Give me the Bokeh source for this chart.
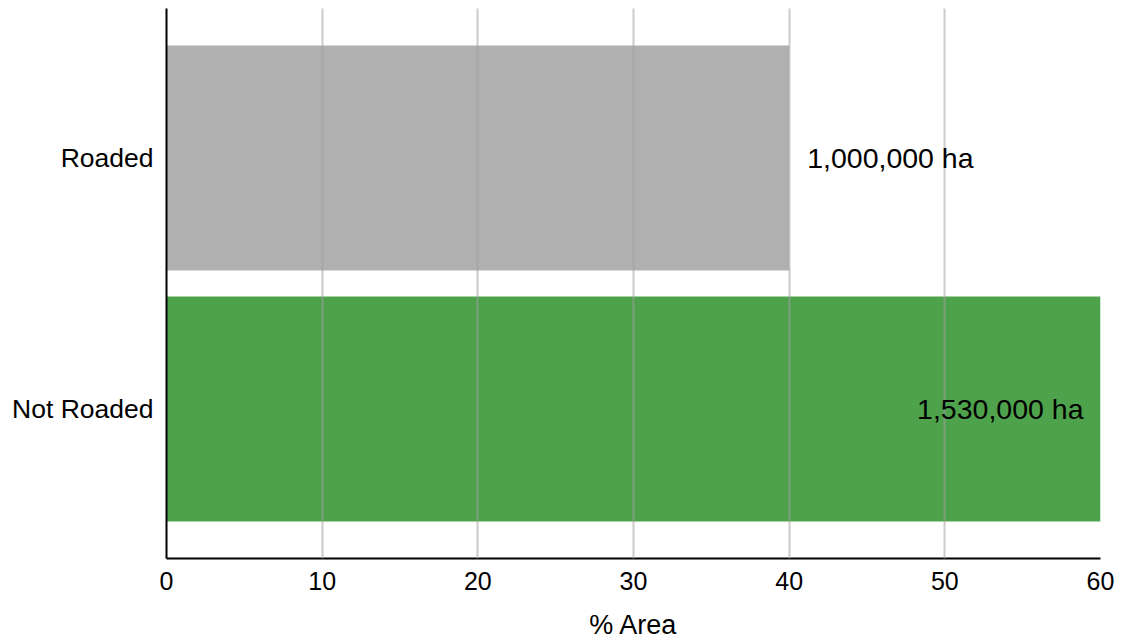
from bokeh.plotting import figure
from bokeh.models import ColumnDataSource, Range1d, FixedTicker
from bokeh.core.properties import value
from bokeh.embed import file_html
from bokeh.resources import INLINE

categories = ["Roaded", "Not Roaded"]
pct_area = [40, 60]
area_labels = ["1,000,000 ha", "1,530,000 ha"]
bar_colors = ["#b0b0b0", "#4fa24c"]
x_ticks = [0, 10, 20, 30, 40, 50, 60]

FONT = "Liberation Sans"
n = len(categories)
y_pos = [n - 1 - i for i in range(n)]
x_max = 60

inside = [v > 0.85 * x_max for v in pct_area]
src = ColumnDataSource(dict(
    y=y_pos, v=pct_area, lab=area_labels, color=bar_colors,
    align=["right" if f else "left" for f in inside],
    xoff=[-17 if f else 18 for f in inside],
))

p = figure(frame_width=934, frame_height=550, output_backend="svg",
           toolbar_location=None, x_range=Range1d(0, x_max),
           y_range=Range1d(-0.5956, n - 1 + 0.5956),
           min_border_left=166, min_border_top=8, min_border_right=16,
           min_border_bottom=10)
p.outline_line_color = None

p.hbar(y="y", right="v", left=0, height=0.896, color="color", source=src,
       line_color=None)
t = p.text(x="v", y="y", text="lab", source=src, x_offset="xoff",
           text_align="align", text_baseline="middle",
           text_font=value(FONT), text_font_size="28.5px", text_color="black")
t.level = "overlay"

p.xaxis.ticker = FixedTicker(ticks=x_ticks)
p.yaxis.ticker = FixedTicker(ticks=y_pos)
p.yaxis.major_label_overrides = {y: c for y, c in zip(y_pos, categories)}
p.xaxis.axis_label = "% Area"

for ax in (p.xaxis, p.yaxis):
    ax.axis_line_color = "black"
    ax.axis_line_width = 2
    ax.major_tick_line_color = None
    ax.minor_tick_line_color = None
    ax.major_label_text_font = FONT
    ax.major_label_text_color = "black"
    ax.axis_label_text_font = FONT
    ax.axis_label_text_font_size = "27px"
    ax.axis_label_text_font_style = "normal"
    ax.axis_label_text_color = "black"

p.xaxis.major_label_text_font_size = "25px"
p.yaxis.major_label_text_font_size = "26.5px"
p.xaxis.major_label_standoff = 7
p.xaxis.axis_label_standoff = 17
p.yaxis.major_tick_out = 0
p.yaxis.major_label_standoff = 13

p.ygrid.grid_line_color = None
p.xgrid.ticker = FixedTicker(ticks=x_ticks)
p.xgrid.grid_line_color = "#a1a1a1"
p.xgrid.grid_line_alpha = 0.55
p.xgrid.grid_line_width = 2
p.xgrid.level = "guide"

open("out.html", "w").write(file_html(p, INLINE))
